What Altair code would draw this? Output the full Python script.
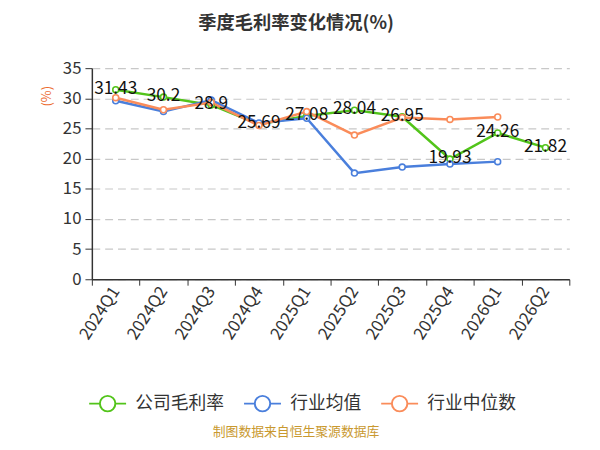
import altair as alt
import pandas as pd

quarters = ["2024Q1", "2024Q2", "2024Q3", "2024Q4", "2025Q1", "2025Q2", "2025Q3", "2025Q4", "2026Q1", "2026Q2"]
company = [31.43, 30.2, 28.9, 25.69, 27.08, 28.04, 26.95, 19.93, 24.26, 21.82]
ind_mean = [29.6, 27.8, 29.7, 25.9, 26.7, 17.6, 18.6, 19.1, 19.5, None]
ind_median = [30.1, 28.1, 29.3, 25.5, 27.8, 23.9, 26.8, 26.5, 26.9, None]
series_names = ["公司毛利率", "行业均值", "行业中位数"]
colors = ["#52c41a", "#4a7fdc", "#fa8c5a"]
y_ticks = [0, 5, 10, 15, 20, 25, 30, 35]
title_text = "季度毛利率变化情况(%)"
footer_text = "制图数据来自恒生聚源数据库"

rows = []
for name, vals in zip(series_names, [company, ind_mean, ind_median]):
    for q, v in zip(quarters, vals):
        if v is not None:
            rows.append({"q": q, "v": v, "s": name, "o": series_names.index(name)})
df = pd.DataFrame(rows)
df_lab = df[df["s"] == series_names[0]].copy()
df_lab["t"] = df_lab["v"].map(lambda x: f"{x:g}")

FONT = "Noto Sans CJK SC"

x_enc = alt.X("q:N", sort=quarters, title=None,
              scale=alt.Scale(paddingInner=0, paddingOuter=0),
              axis=alt.Axis(labelAngle=-57, labelAlign="right", labelBaseline="middle",
                            labelFontSize=17, labelColor="#333", labelFont=FONT,
                            tickBand="extent", tickColor="#333", tickSize=6, labelOverlap=False,
                            domainColor="#333", domainWidth=1.5, labelPadding=3, grid=False))
y_enc = alt.Y("v:Q", title="(%)",
              scale=alt.Scale(domain=[0, 35], nice=False, zero=True),
              axis=alt.Axis(values=y_ticks, tickCount=8, labelFontSize=17, labelOverlap=False,
                            labelColor="#333", labelFont=FONT, tickColor="#333", tickSize=7,
                            domainColor="#333", domainWidth=1.5, labelPadding=4,
                            gridDash=[8, 5], gridColor="#c8c8c8", gridWidth=1.2,
                            titleColor="#ec6a2e", titleFontSize=13, titleFontWeight="normal",
                            titleFont=FONT, titleX=-46, titleY=28, titleAngle=-90,
                            titleAlign="center", titleBaseline="middle"))

color_enc = alt.Color("s:N", sort=series_names,
                      scale=alt.Scale(domain=series_names, range=colors),
                      legend=alt.Legend(orient="none", legendX=-4, legendY=320, direction="horizontal",
                                        title=None, labelFontSize=18, labelColor="#333", labelFont=FONT,
                                        symbolType="M-1,0L-0.42,0M0.42,0L1,0M-0.42,0A0.42,0.42 0 1 1 0.42,0A0.42,0.42 0 1 1 -0.42,0Z",
                                        symbolSize=1400, symbolStrokeWidth=2, symbolFillColor="white",
                                        columnPadding=16, labelOffset=8))

base = alt.Chart(df)
lines = base.mark_line(strokeWidth=2.5).encode(x=x_enc, y=y_enc, color=color_enc, order="o:Q", detail="s:N")
pts = base.mark_point(filled=True, fill="white", size=36, strokeWidth=1.6, opacity=1).encode(
    x=x_enc, y=y_enc,
    stroke=alt.Stroke("s:N", scale=alt.Scale(domain=series_names, range=colors), legend=None))
labels = alt.Chart(df_lab).mark_text(fontSize=17.5, color="#111", font=FONT, baseline="middle", dy=-1).encode(
    x=x_enc, y=y_enc, text="t:N")
footer = alt.Chart(pd.DataFrame({"t": [footer_text]})).mark_text(
    fontSize=13, color="#c9992f", font=FONT, baseline="middle").encode(x=alt.value(207), y=alt.value(369), text="t:N")

chart = alt.layer(lines, pts, labels, footer).properties(
    width=484, height=214,
    title=alt.TitleParams(title_text, fontSize=18.5, fontWeight="bold", color="#333", font=FONT,
                          anchor="middle", dx=-35, offset=27),
    autosize=alt.AutoSizeParams(type="none"),
    padding={"left": 85, "top": 58, "right": 23, "bottom": 162},
).configure_view(stroke=None)

chart.save("out.html", embed_options={"renderer": "svg", "actions": False})
